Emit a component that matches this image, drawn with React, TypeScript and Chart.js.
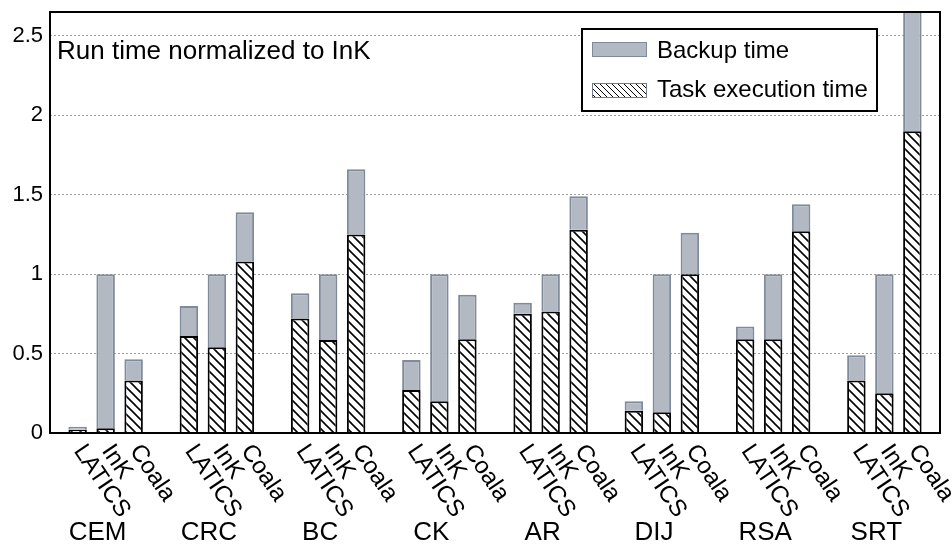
import { useEffect, useRef } from 'react';
import { Chart, registerables } from 'chart.js';

Chart.register(...registerables);

const groups = ['CEM', 'CRC', 'BC', 'CK', 'AR', 'DIJ', 'RSA', 'SRT'];
const systems = ['LATICS', 'InK', 'Coala'];
const yTicks = [0, 0.5, 1, 1.5, 2, 2.5];
const latExec = [0.02, 0.61, 0.72, 0.27, 0.75, 0.14, 0.59, 0.33];
const latTotal = [0.04, 0.8, 0.88, 0.46, 0.82, 0.2, 0.67, 0.49];
const inkExec = [0.03, 0.54, 0.585, 0.2, 0.765, 0.13, 0.59, 0.25];
const inkTotal = [1, 1, 1, 1, 1, 1, 1, 1];
const coalaExec = [0.33, 1.08, 1.25, 0.59, 1.28, 1.0, 1.27, 1.9];
const coalaTotal = [0.465, 1.39, 1.66, 0.87, 1.49, 1.26, 1.44, 2.75];
const legendLabels = ['Backup time', 'Task execution time'];
const titleText = 'Run time normalized to InK';

const FONT = '"Liberation Sans", Arial, Helvetica, sans-serif';
const GRAY = '#b3b9c3';
const GRAY_BORDER = '#7f8a9b';

function makeHatch(size: number, lw: number): CanvasPattern | string {
  const c = document.createElement('canvas');
  c.width = size;
  c.height = size;
  const g = c.getContext('2d');
  if (!g) return '#fff';
  g.fillStyle = '#fff';
  g.fillRect(0, 0, size, size);
  g.strokeStyle = '#000';
  g.lineWidth = lw;
  g.beginPath();
  g.moveTo(-1, -1);
  g.lineTo(size + 1, size + 1);
  g.moveTo(-2, size - 2);
  g.lineTo(2, size + 2);
  g.moveTo(size - 2, -2);
  g.lineTo(size + 2, 2);
  g.stroke();
  const p = g.createPattern(c, 'repeat');
  return p || '#fff';
}

export default function App() {
  const ref = useRef<HTMLCanvasElement | null>(null);

  useEffect(() => {
    if (!ref.current) return;
    const hatch = makeHatch(9, 1.6);
    const hatchSmall = makeHatch(6, 1);

    const execs = [latExec, inkExec, coalaExec];
    const totals = [latTotal, inkTotal, coalaTotal];
    const datasets: any[] = [];
    systems.forEach((s, i) => {
      datasets.push({
        label: legendLabels[1],
        data: execs[i],
        stack: s,
        backgroundColor: hatch,
        borderColor: '#000',
        borderWidth: 2,
      });
      datasets.push({
        label: legendLabels[0],
        data: totals[i].map((t, j) => t - execs[i][j]),
        stack: s,
        backgroundColor: GRAY,
        borderColor: GRAY_BORDER,
        borderWidth: 2,
      });
    });

    const frame = {
      id: 'frame',
      afterDatasetsDraw(chart: any) {
        const { ctx, chartArea: a } = chart;
        ctx.save();
        ctx.strokeStyle = '#000';
        ctx.lineWidth = 2;
        ctx.strokeRect(a.left, a.top, a.right - a.left, a.bottom - a.top);
        ctx.restore();
      },
    };

    const extras = {
      id: 'extras',
      afterDraw(chart: any) {
        const { ctx, chartArea: a } = chart;
        ctx.save();
        // title inside plot
        ctx.fillStyle = '#000';
        ctx.font = `26px ${FONT}`;
        ctx.textAlign = 'left';
        ctx.textBaseline = 'alphabetic';
        ctx.fillText(titleText, a.left + 7, a.top + 47);

        // per-bar rotated labels
        ctx.font = `24px ${FONT}`;
        ctx.textBaseline = 'middle';
        systems.forEach((name, s) => {
          const meta = chart.getDatasetMeta(s * 2);
          meta.data.forEach((el: any) => {
            ctx.save();
            ctx.translate(el.x + 1, a.bottom + 14);
            ctx.rotate((56 * Math.PI) / 180);
            ctx.fillText(name, 0, 0);
            ctx.restore();
          });
        });

        // legend
        const lx = 582, ly = 29, lw = 295, lh = 82;
        ctx.fillStyle = '#fff';
        ctx.fillRect(lx, ly, lw, lh);
        ctx.strokeStyle = '#000';
        ctx.lineWidth = 2;
        ctx.strokeRect(lx, ly, lw, lh);
        // backup swatch
        ctx.fillStyle = GRAY;
        ctx.fillRect(592, 42, 55, 15);
        ctx.strokeStyle = GRAY_BORDER;
        ctx.lineWidth = 1;
        ctx.strokeRect(592.5, 42.5, 54, 14);
        // hatch swatch
        ctx.fillStyle = hatchSmall;
        ctx.fillRect(592, 83, 55, 15);
        ctx.strokeStyle = '#6f7a8a';
        ctx.strokeRect(592.5, 83.5, 54, 14);
        ctx.fillStyle = '#000';
        ctx.font = `24px ${FONT}`;
        ctx.textBaseline = 'alphabetic';
        ctx.fillText(legendLabels[0], 657, 58);
        ctx.fillText(legendLabels[1], 657, 97);
        ctx.restore();
      },
    };

    const chart = new Chart(ref.current, {
      type: 'bar',
      data: { labels: groups, datasets },
      options: {
        responsive: false,
        animation: false,
        layout: { padding: { top: 12, right: 12, left: 0, bottom: 0 } },
        plugins: { legend: { display: false }, tooltip: { enabled: false } },
        datasets: { bar: { categoryPercentage: 0.755, barPercentage: 0.66 } },
        scales: {
          x: {
            stacked: true,
            grid: { display: false, drawTicks: false },
            border: { display: false },
            ticks: {
              color: '#000',
              font: { family: FONT, size: 26 },
              padding: 84,
              labelOffset: -8,
              maxRotation: 0,
              autoSkip: false,
            },
            afterFit(scale: any) {
              scale.height = 111;
              scale.paddingLeft = 0;
              scale.paddingRight = 0;
            },
          },
          y: {
            stacked: true,
            min: 0,
            max: 2.65,
            grid: { color: '#a0a0a0', lineWidth: 1, drawTicks: false },
            border: { display: false, dash: [2, 2] },
            ticks: {
              color: '#000',
              font: { family: FONT, size: 22 },
              padding: 7,
              callback: (v: any) => String(v),
            },
            afterBuildTicks(scale: any) {
              scale.ticks = yTicks.map((v) => ({ value: v }));
            },
            afterFit(scale: any) {
              scale.width = 50;
              scale.paddingTop = 0;
              scale.paddingBottom = 0;
            },
          },
        },
      },
      plugins: [frame, extras],
    });
    return () => chart.destroy();
  }, []);

  return (
    <canvas
      ref={ref}
      width={952}
      height={544}
      style={{ position: 'absolute', left: 0, top: 0, display: 'block' }}
    />
  );
}
